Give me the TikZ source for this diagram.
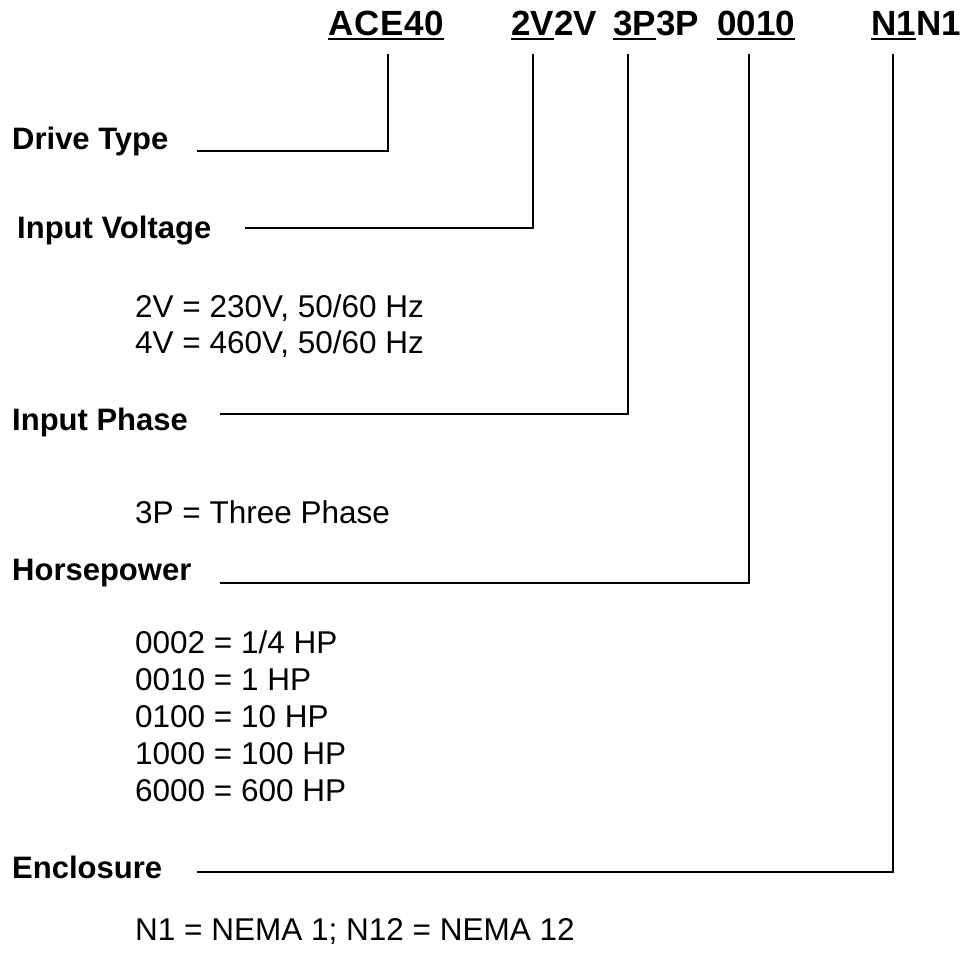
\documentclass[tikz,border=0pt]{standalone}
\usepackage{fontspec}
\setmainfont{Liberation Sans}
\begin{document}
\begin{tikzpicture}[x=1pt,y=-1pt,
  hdr/.style={anchor=base west,inner sep=0pt,font=\fontsize{35}{40}\selectfont\bfseries},
  lbl/.style={anchor=base west,inner sep=0pt,font=\fontsize{31}{36}\selectfont\bfseries},
  body/.style={anchor=base west,inner sep=0pt,font=\fontsize{31.5}{36}\selectfont},
  lead/.style={line width=2pt},
  uline/.style={line width=2.5pt}]
\useasboundingbox (0,0) rectangle (964,959);
% header code
\node[hdr] (hACE) at (328,35) {\addfontfeature{LetterSpace=2}ACE40};
\node[hdr] (h2Va) at (511,35) {2V};
\node[hdr] (h2Vb) at (h2Va.base east) {2V};
\node[hdr] (h3Pa) at (613,35) {3P};
\node[hdr] (h3Pb) at (h3Pa.base east) {3P};
\node[hdr] (h0010) at (717,35) {0010};
\node[hdr] (hN1a) at (871,35) {N1};
\node[hdr] (hN1b) at (hN1a.base east) {N1};
\foreach \n in {hACE,h2Va,h3Pa,h0010,hN1a}
  \draw[uline] ([yshift=-4pt]\n.base west) -- ([yshift=-4pt]\n.base east);
% tick tops
\coordinate (tA) at (388,54);
\coordinate (tV) at (533,54);
\coordinate (tP) at (628,54);
\coordinate (tH) at (749,54);
\coordinate (tE) at (893,54);
% labels
\node[lbl] (lDrive) at (12,149) {Drive Type};
\node[lbl] (lVolt) at (17,238) {Input Voltage};
\node[lbl] (lPhase) at (12,430) {Input Phase};
\node[lbl] (lHP) at (12,580) {Horsepower};
\node[lbl] (lEnc) at (12,878) {Enclosure};
% leader starts
\coordinate (sA) at (197,151);
\coordinate (sV) at (245,228);
\coordinate (sP) at (220,414);
\coordinate (sH) at (220,583);
\coordinate (sE) at (197,872);
\draw[lead] (sA) -| (tA);
\draw[lead] (sV) -| (tV);
\draw[lead] (sP) -| (tP);
\draw[lead] (sH) -| (tH);
\draw[lead] (sE) -| (tE);
% body
\node[body] (v2) at (135,317) {2V = 230V, 50/60 Hz};
\node[body] (v4) at (135,353) {4V = 460V, 50/60 Hz};
\node[body] (p3) at (135,523) {3P = Three Phase};
\node[body] (hp1) at (135,653) {0002 = 1/4 HP};
\node[body] (hp2) at (135,690) {0010 = 1 HP};
\node[body] (hp3) at (135,727) {0100 = 10 HP};
\node[body] (hp4) at (135,764) {1000 = 100 HP};
\node[body] (hp5) at (135,801) {6000 = 600 HP};
\node[body] (enc) at (135,940) {N1 = NEMA 1; N12 = NEMA 12};
\end{tikzpicture}
\end{document}
